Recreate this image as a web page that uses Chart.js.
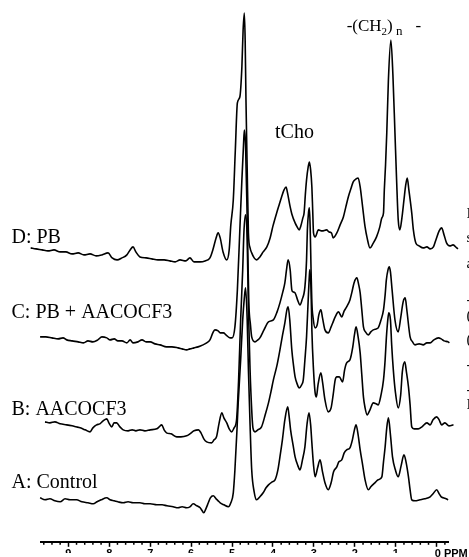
<!DOCTYPE html>
<html>
<head>
  <title>1H NMR spectra</title>
  <script src="https://cdn.jsdelivr.net/npm/chart.js"></script>
  <style>
    html, body { margin: 0; padding: 0; overflow: hidden; background: #fff; }
  </style>
</head>
<body>
  <canvas id="nmrChart" width="469" height="562"></canvas>

  <script>
    // [chemical shift in ppm, intensity], traces stacked from A (bottom) to D (top)
    const specA = [[9.69,44],[9.57,42],[9.45,43],[9.33,41],[9.20,40],[9.08,43],[8.96,42],[8.80,42],[8.67,40],[8.52,39],[8.39,38],[8.30,40],[8.20,42],[8.06,44],[7.98,42],[7.88,41],[7.79,40],[7.66,39],[7.54,40],[7.42,39],[7.25,39],[7.13,38],[7.00,38],[6.84,37],[6.71,37],[6.59,36],[6.44,35],[6.32,34],[6.22,35],[6.11,34],[6.03,35],[5.95,38],[5.86,36],[5.78,34],[5.73,31],[5.69,29],[5.64,33],[5.58,39],[5.53,44],[5.46,46],[5.39,43],[5.34,41],[5.29,39],[5.20,37],[5.09,35],[5.03,39],[4.97,49],[4.93,72],[4.88,112],[4.85,139],[4.79,182],[4.74,222],[4.70,244],[4.67,254],[4.63,222],[4.60,172],[4.56,117],[4.52,72],[4.46,50],[4.40,42],[4.32,45],[4.24,49],[4.17,54],[4.11,57],[4.02,60],[3.95,62],[3.88,72],[3.83,85],[3.77,102],[3.71,122],[3.64,135],[3.61,127],[3.57,112],[3.51,97],[3.46,85],[3.40,77],[3.34,72],[3.28,82],[3.22,95],[3.17,117],[3.12,129],[3.08,117],[3.05,99],[3.01,77],[2.97,65],[2.91,74],[2.85,82],[2.79,70],[2.73,59],[2.65,52],[2.58,59],[2.52,70],[2.44,75],[2.39,80],[2.32,82],[2.26,89],[2.20,92],[2.12,94],[2.06,102],[2.01,112],[1.97,117],[1.92,107],[1.87,92],[1.81,77],[1.75,62],[1.67,52],[1.61,55],[1.51,59],[1.43,62],[1.34,65],[1.30,80],[1.26,95],[1.22,114],[1.18,124],[1.13,107],[1.08,85],[1.01,72],[0.94,65],[0.87,76],[0.80,87],[0.75,80],[0.69,65],[0.65,52],[0.61,42],[0.53,41],[0.41,42],[0.29,43],[0.16,45],[0.09,48],[0.00,52],[-0.06,48],[-0.11,45],[-0.16,44],[-0.23,43],[-0.28,42]];

    const specB = [[9.57,120],[9.45,119],[9.33,120],[9.20,118],[9.04,117],[8.91,116],[8.81,115],[8.71,114],[8.59,112],[8.47,110],[8.40,114],[8.31,117],[8.23,118],[8.15,121],[8.06,123],[8.01,119],[7.94,115],[7.88,119],[7.82,119],[7.74,115],[7.66,112],[7.54,111],[7.44,112],[7.35,111],[7.25,112],[7.13,111],[7.00,112],[6.84,113],[6.78,115],[6.72,117],[6.66,112],[6.60,109],[6.49,108],[6.35,105],[6.25,105],[6.11,106],[6.03,108],[5.93,111],[5.82,112],[5.76,109],[5.69,103],[5.62,100],[5.50,99],[5.44,102],[5.38,105],[5.32,118],[5.25,129],[5.20,124],[5.13,119],[5.07,113],[5.01,110],[4.95,114],[4.89,122],[4.84,162],[4.79,222],[4.74,272],[4.71,310],[4.67,327],[4.63,302],[4.60,232],[4.56,172],[4.52,132],[4.49,114],[4.44,110],[4.37,112],[4.28,115],[4.19,127],[4.11,139],[4.05,150],[3.99,162],[3.90,177],[3.83,192],[3.77,206],[3.71,219],[3.66,232],[3.63,235],[3.59,222],[3.54,192],[3.50,177],[3.46,165],[3.41,158],[3.36,154],[3.30,157],[3.26,162],[3.22,182],[3.18,205],[3.14,242],[3.11,267],[3.10,272],[3.07,252],[3.05,212],[3.01,172],[2.97,149],[2.94,145],[2.90,157],[2.83,169],[2.79,160],[2.73,142],[2.65,130],[2.58,134],[2.53,147],[2.48,162],[2.44,165],[2.38,165],[2.30,160],[2.25,172],[2.20,179],[2.12,182],[2.05,195],[2.01,207],[1.97,215],[1.92,205],[1.87,189],[1.83,167],[1.79,145],[1.75,134],[1.70,127],[1.63,132],[1.55,139],[1.48,138],[1.43,137],[1.36,147],[1.30,162],[1.26,182],[1.23,204],[1.19,224],[1.17,229],[1.13,222],[1.10,197],[1.06,172],[1.01,150],[0.94,134],[0.88,147],[0.84,170],[0.78,180],[0.74,170],[0.69,155],[0.65,137],[0.61,115],[0.55,113],[0.45,113],[0.36,115],[0.24,119],[0.16,117],[0.09,122],[0.00,125],[-0.06,122],[-0.12,117],[-0.20,119],[-0.30,116],[-0.41,117]];

    const specC = [[9.69,205],[9.55,205],[9.40,204],[9.25,203],[9.13,204],[9.04,202],[8.91,201],[8.76,200],[8.63,199],[8.52,201],[8.40,200],[8.28,202],[8.18,205],[8.06,204],[7.98,202],[7.88,203],[7.79,201],[7.69,201],[7.57,199],[7.49,202],[7.42,199],[7.30,200],[7.20,202],[7.10,200],[7.00,200],[6.88,198],[6.76,197],[6.60,195],[6.47,195],[6.32,194],[6.22,193],[6.11,192],[6.03,193],[5.93,194],[5.83,195],[5.71,197],[5.62,199],[5.54,202],[5.47,209],[5.42,212],[5.34,211],[5.29,209],[5.21,209],[5.15,207],[5.05,204],[5.00,204],[4.93,215],[4.87,252],[4.81,312],[4.76,362],[4.72,397],[4.70,412],[4.67,397],[4.63,322],[4.59,239],[4.55,217],[4.52,205],[4.44,200],[4.37,202],[4.32,204],[4.22,212],[4.11,220],[3.99,222],[3.90,230],[3.83,239],[3.76,250],[3.71,259],[3.67,272],[3.63,282],[3.58,272],[3.54,252],[3.51,250],[3.46,249],[3.40,242],[3.34,237],[3.29,242],[3.22,255],[3.18,282],[3.16,312],[3.13,330],[3.11,334],[3.09,312],[3.07,272],[3.05,239],[3.02,224],[2.97,214],[2.92,217],[2.88,227],[2.83,232],[2.79,224],[2.73,212],[2.65,209],[2.58,215],[2.53,220],[2.48,225],[2.40,230],[2.32,225],[2.26,231],[2.20,235],[2.12,242],[2.07,250],[2.02,259],[1.95,264],[1.91,258],[1.87,249],[1.83,232],[1.79,215],[1.74,210],[1.67,207],[1.61,210],[1.55,212],[1.48,213],[1.43,214],[1.36,222],[1.30,232],[1.26,247],[1.23,262],[1.19,272],[1.16,275],[1.13,270],[1.09,252],[1.02,222],[0.94,210],[0.88,224],[0.82,240],[0.77,244],[0.73,232],[0.65,205],[0.59,200],[0.53,197],[0.43,198],[0.33,197],[0.24,199],[0.16,199],[0.07,202],[-0.04,204],[-0.11,203],[-0.18,201],[-0.28,200],[-0.31,199]];

    const specD = [[9.92,294],[9.79,293],[9.64,292],[9.50,291],[9.35,292],[9.20,290],[9.06,290],[8.91,288],[8.76,289],[8.62,287],[8.47,288],[8.32,286],[8.18,287],[8.03,289],[7.93,284],[7.81,282],[7.69,284],[7.57,287],[7.49,292],[7.42,295],[7.35,290],[7.25,285],[7.10,284],[6.96,283],[6.81,282],[6.66,282],[6.52,281],[6.39,280],[6.27,282],[6.13,281],[6.03,284],[5.93,280],[5.78,280],[5.66,281],[5.54,284],[5.47,292],[5.39,304],[5.34,309],[5.29,304],[5.22,290],[5.13,282],[5.07,292],[5.03,317],[4.97,342],[4.92,392],[4.87,439],[4.81,445],[4.76,475],[4.73,512],[4.70,529],[4.68,502],[4.66,442],[4.63,372],[4.60,309],[4.56,294],[4.52,289],[4.46,284],[4.40,282],[4.32,285],[4.24,290],[4.15,295],[4.07,304],[4.00,316],[3.91,329],[3.85,337],[3.79,345],[3.73,352],[3.68,355],[3.65,350],[3.58,335],[3.54,328],[3.46,319],[3.41,315],[3.36,312],[3.32,316],[3.27,324],[3.24,329],[3.21,347],[3.18,362],[3.14,375],[3.11,380],[3.08,372],[3.05,355],[3.03,332],[3.01,309],[2.97,305],[2.89,312],[2.80,311],[2.69,312],[2.63,310],[2.57,309],[2.53,304],[2.44,309],[2.36,317],[2.28,325],[2.22,335],[2.16,345],[2.09,354],[2.04,360],[1.97,363],[1.92,364],[1.87,355],[1.83,342],[1.79,328],[1.75,315],[1.70,304],[1.63,294],[1.56,298],[1.47,305],[1.39,315],[1.34,324],[1.30,329],[1.28,352],[1.25,377],[1.22,409],[1.18,462],[1.12,502],[1.07,467],[1.02,409],[0.98,362],[0.94,322],[0.90,312],[0.85,324],[0.80,342],[0.76,356],[0.72,364],[0.68,352],[0.61,329],[0.57,312],[0.51,299],[0.43,296],[0.33,294],[0.24,295],[0.16,293],[0.08,295],[0.02,302],[-0.06,311],[-0.12,314],[-0.18,307],[-0.24,299],[-0.32,296],[-0.40,297],[-0.49,294],[-0.52,293]];

    const traceNames = ['A: Control', 'B: AACOCF3', 'C: PB + AACOCF3', 'D: PB'];
    const tickLabels = ['9', '8', '7', '6', '5', '4', '3', '2', '1', '0'];
    const axisUnit = 'PPM';

    const serif = '"Liberation Serif", "Times New Roman", serif';
    const sans = '"Liberation Sans", Arial, sans-serif';

    // labels, minor ticks and the clipped text on the right edge
    const overlay = {
      id: 'overlay',
      afterDraw(chart) {
        const ctx = chart.ctx;
        const xs = chart.scales.x;
        ctx.save();

        ctx.strokeStyle = '#000';
        ctx.lineWidth = 1.5;
        for (let k = -1; k <= 48; k++) {
          if (k % 5 === 0) continue;
          const px = xs.getPixelForValue(k / 5);
          ctx.beginPath();
          ctx.moveTo(px, xs.top);
          ctx.lineTo(px, xs.top + 3);
          ctx.stroke();
        }

        // the tick numbers are cut off in the original
        ctx.fillStyle = '#fff';
        ctx.fillRect(0, 553, 428, 20);

        ctx.fillStyle = '#000';
        ctx.textBaseline = 'alphabetic';
        ctx.font = 'bold 11px ' + sans;
        ctx.fillText('0 ' + axisUnit, xs.getPixelForValue(0) - 2, 557);

        ctx.font = '20px ' + serif;
        const nameY = [488, 415, 318, 243];
        traceNames.forEach((t, i) => ctx.fillText(t, 11.5, nameY[i]));
        ctx.fillText('tCho', 275, 137.5);

        ctx.font = '17px ' + serif;
        ctx.fillText('-(CH', 346.7, 31);
        ctx.fillText(')', 387, 31);
        ctx.fillText('-', 415.5, 31);
        ctx.font = '11px ' + serif;
        ctx.fillText('2', 381.5, 34.5);
        ctx.font = '13px ' + serif;
        ctx.fillText('n', 396, 35);

        ctx.font = '15px ' + serif;
        [['I', 218], ['s', 242], ['a', 268], ['-', 304], ['(', 320], ['(', 344], ['-', 369], ['-', 394], ['I', 409]]
          .forEach(([c, y]) => ctx.fillText(c, 466.5, y));

        ctx.restore();
      }
    };

    new Chart(document.getElementById('nmrChart'), {
      type: 'line',
      data: {
        datasets: [specA, specB, specC, specD].map((s, i) => ({
          label: traceNames[i],
          data: s.map(p => ({ x: p[0], y: p[1] })),
          borderColor: '#000',
          borderWidth: 1.6,
          pointRadius: 0,
          fill: false,
          cubicInterpolationMode: 'monotone',
          clip: false
        }))
      },
      options: {
        responsive: false,
        animation: false,
        layout: { padding: { left: 41, right: 21, top: 0, bottom: 0 } },
        plugins: { legend: { display: false }, tooltip: { enabled: false } },
        scales: {
          x: {
            type: 'linear',
            reverse: true,
            min: -0.276,
            max: 9.668,
            afterBuildTicks: s => { s.ticks = tickLabels.map(t => ({ value: Number(t) })); },
            ticks: {
              callback: v => (v === 0 ? '' : String(v)),
              font: { family: sans, size: 11, weight: 'bold' },
              color: '#000',
              padding: 1,
              maxRotation: 0,
              autoSkip: false
            },
            grid: { drawOnChartArea: false, drawTicks: true, tickLength: 5, tickWidth: 1.5, tickColor: '#000' },
            border: { display: true, color: '#000', width: 2 }
          },
          y: { display: false, min: 0, max: 542 }
        }
      },
      plugins: [overlay]
    });
  </script>
</body>
</html>
